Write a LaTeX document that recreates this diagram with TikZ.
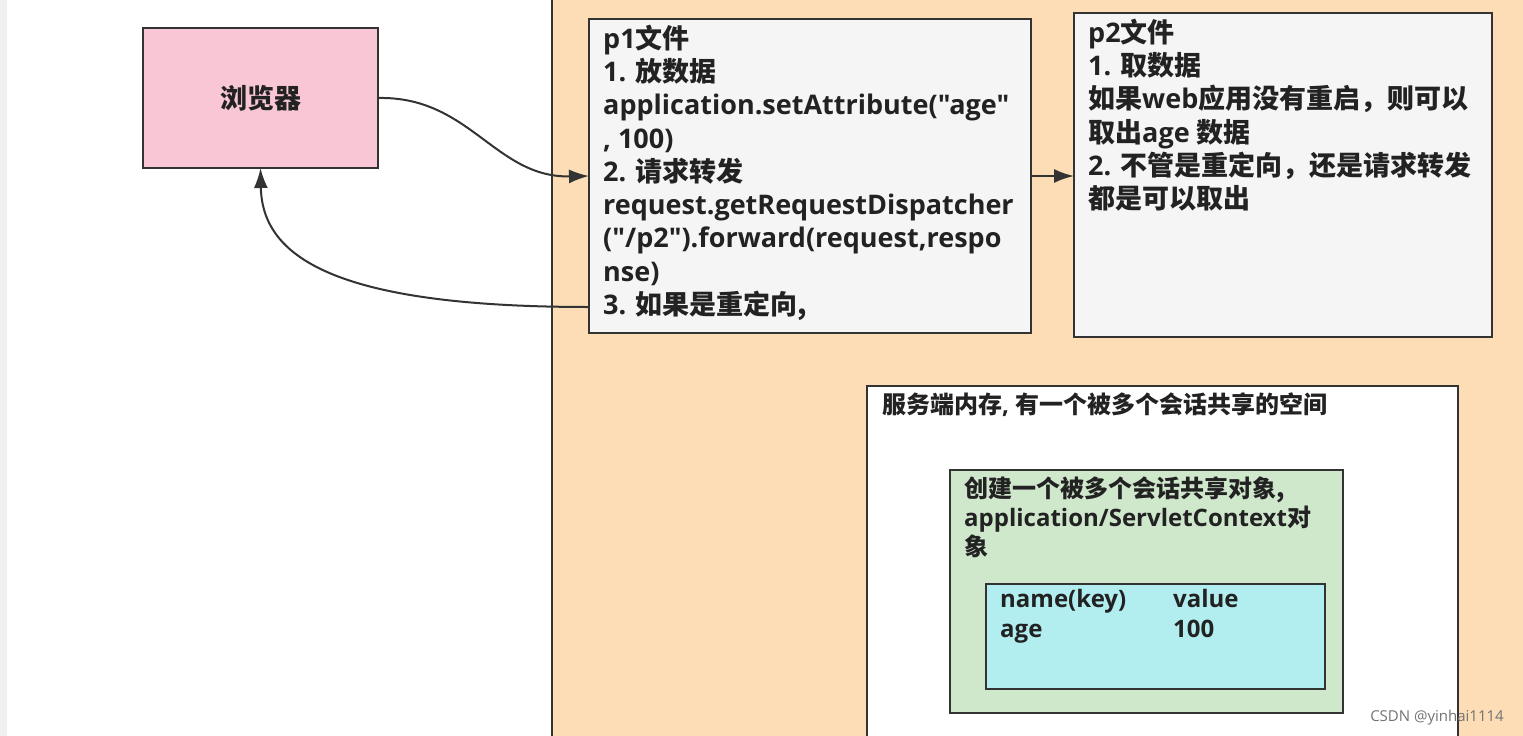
\documentclass[tikz,border=0pt]{standalone}
\usepackage{fontspec}
\setmainfont{Open Sans}[Ligatures=TeXOff]
\newfontfamily\cjk{Noto Sans CJK SC}
\usetikzlibrary{arrows.meta}
\definecolor{bgorange}{HTML}{FCDDB5}
\definecolor{pinkfill}{HTML}{F8C6D4}
\definecolor{boxgray}{HTML}{F5F5F5}
\definecolor{greenfill}{HTML}{CFE8CC}
\definecolor{cyanfill}{HTML}{B2EEF0}
\definecolor{ink}{HTML}{222222}
\definecolor{edge}{HTML}{333333}
\tikzset{
  box/.style={draw=edge, line width=2pt, inner sep=0pt, outer sep=0pt},
  txt/.style={inner sep=0pt, anchor=north west, align=left, text=ink,
    font=\bfseries\fontsize{27}{33.3}\selectfont},
  small/.style={font=\bfseries\fontsize{24}{29}\selectfont},
  conn/.style={draw=edge, line width=2pt, -{Latex[length=20pt,width=14pt]}},
}
\begin{document}
\begin{tikzpicture}[x=1pt,y=-1pt]
\useasboundingbox (0,0) rectangle (1523,736);
\clip (0,0) rectangle (1523,736);
\fill[white] (0,0) rectangle (1523,736);
\fill[black!6] (0,0) rectangle (7,736);
% orange server area
\node[box, fill=bgorange, minimum width=980pt, minimum height=760pt] (area) at (1042,368) {};
% browser
\node[box, fill=pinkfill, minimum width=235pt, minimum height=140pt,
  text=ink, font=\cjk\bfseries\fontsize{27}{30}\selectfont] (browser) at (260.5,98) {浏览器};
% p1
\node[box, fill=boxgray, minimum width=442pt, minimum height=314pt] (p1) at (810,176) {};
\node[txt] (p1t) at (603,24.5) {p1{\cjk 文件}\\
1. {\cjk 放数据}\\
application.setAttribute("age"\\
, 100)\\
2. {\cjk 请求转发}\\
request.getRequestDispatcher\\
("/p2").forward(request,respo\\
nse)\\
3. {\cjk 如果是重定向,}};
% p2
\node[box, fill=boxgray, minimum width=418pt, minimum height=324pt] (p2) at (1283,175) {};
\node[txt] (p2t) at (1088,18.5) {p2{\cjk 文件}\\
1. {\cjk 取数据}\\
{\cjk 如果}web{\cjk 应用没有重启，则可以}\\
{\cjk 取出}age {\cjk 数据}\\
2. {\cjk 不管是重定向，还是请求转发}\\
{\cjk 都是可以取出}};
% server memory
\node[box, fill=white, minimum width=591pt, minimum height=359pt] (mem) at (1162.5,565.5) {};
\node[txt, small] (memt) at (882,393) {{\cjk 服务端内存}, {\cjk 有一个被多个会话共享的空间}};
% shared object
\node[box, fill=greenfill, minimum width=393pt, minimum height=243pt] (ctx) at (1146.5,591.5) {};
\node[txt, small] (ctxt) at (964,477) {{\cjk 创建一个被多个会话共享对象,}\\
application/ServletContext{\cjk 对}\\
{\cjk 象}};
% map
\node[box, fill=cyanfill, minimum width=339pt, minimum height=105pt] (map) at (1155.5,636.5) {};
\node[txt, font=\bfseries\fontsize{24}{30}\selectfont] (keys) at (1000,589) {name(key)\\age};
\node[txt, font=\bfseries\fontsize{24}{30}\selectfont] (vals) at (1173,589) {value\\100};
% watermark
\node[inner sep=0pt, text=black!55, font=\fontsize{15}{18}\selectfont] (wm) at (1437,718) {CSDN @yinhai1114};
% connectors
\draw[conn] (browser.east) .. controls (470,96) and (495,178) .. (p1.west);
\draw[conn] ([yshift=26pt]p1.south west) .. controls (330,307) and (262,255) .. (browser.south);
\draw[conn] (p1.east) -- (p1.east -| p2.west);
\end{tikzpicture}
\end{document}
